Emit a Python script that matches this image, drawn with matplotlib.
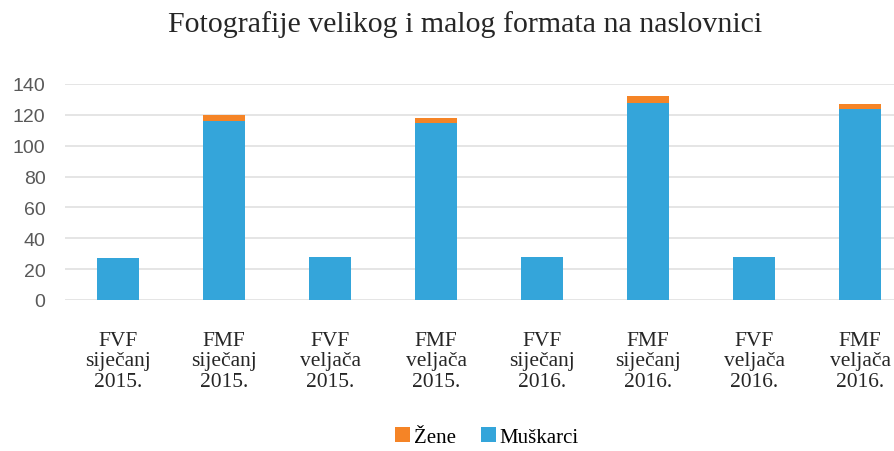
import numpy as np
import matplotlib.pyplot as plt

# categories and stacked values
categories = [
    "FVF\nsiječanj\n2015.", "FMF\nsiječanj\n2015.",
    "FVF\nveljača\n2015.", "FMF\nveljača\n2015.",
    "FVF\nsiječanj\n2016.", "FMF\nsiječanj\n2016.",
    "FVF\nveljača\n2016.", "FMF\nveljača\n2016.",
]
muskarci = [27, 116, 28, 115, 28, 128, 28, 124]
zene = [0, 4, 0, 3, 0, 4, 0, 3]

blue = "#34a5da"
orange = "#f58426"

fig = plt.figure(figsize=(8.94, 4.52), dpi=100)
# plot area runs a bit past the right edge of the canvas
ax = fig.add_axes([65 / 894, 151 / 452, 848 / 894, 216 / 452])

x = np.arange(len(categories))
ax.bar(x, muskarci, width=0.4, color=blue, label="Muškarci", zorder=3)
ax.bar(x, zene, width=0.4, bottom=muskarci, color=orange, label="Žene", zorder=3)

ax.set_xlim(-0.5, len(categories) - 0.5)
ax.set_ylim(0, 140)
ax.set_yticks(range(0, 141, 20))
ax.yaxis.grid(True, color="#e3e3e3", linewidth=1.3, zorder=0)
for s in ax.spines.values():
    s.set_visible(False)
ax.tick_params(axis="both", length=0)
ax.tick_params(axis="y", pad=14, labelsize=14, labelcolor="#595959")
for lbl in ax.get_yticklabels():
    lbl.set_fontfamily("Liberation Sans")

ax.set_xticks(x)
ax.set_xticklabels(categories, fontfamily="Liberation Serif", fontsize=15.5,
                   color="#262626", linespacing=1.12)
ax.tick_params(axis="x", pad=22)

fig.text(465 / 894, 1 - 25 / 452, "Fotografije velikog i malog formata na naslovnici",
         ha="center", va="center", fontfamily="Liberation Serif", fontsize=21.5,
         color="#262626")

h, l = ax.get_legend_handles_labels()
fig.legend(h[::-1], l[::-1], loc="center", bbox_to_anchor=(487 / 894, 1 - 438 / 452),
           ncol=2, frameon=False, handlelength=0.7, handleheight=0.7,
           handletextpad=0.2, columnspacing=1.2,
           prop={"family": "Liberation Serif", "size": 15})

fig.savefig("out.png", dpi=100)
